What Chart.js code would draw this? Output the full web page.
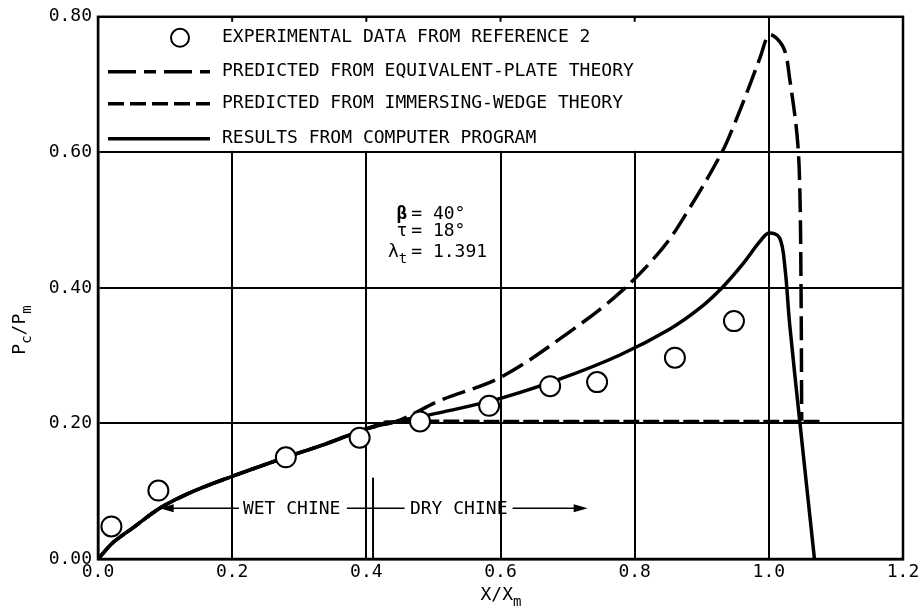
<!DOCTYPE html>
<html>
<head>
<meta charset="utf-8">
<script src="https://cdn.jsdelivr.net/npm/chart.js@4/dist/chart.umd.min.js"></script>
<style>
  html, body { margin: 0; padding: 0; background: #fff; }
  canvas { display: block; }
</style>
</head>
<body>
<canvas id="myChart" width="923" height="616"></canvas>
<script>
// tick values
const xTicks = [0, 0.2, 0.4, 0.6, 0.8, 1.0, 1.2];
const yTicks = [0, 0.2, 0.4, 0.6, 0.8];

// experimental data from reference 2
const expX = [0.02, 0.09, 0.28, 0.39, 0.48, 0.583, 0.674, 0.744, 0.86, 0.948];
const expY = [0.048, 0.101, 0.150, 0.179, 0.203, 0.226, 0.255, 0.261, 0.297, 0.351];

// results from computer program
const progX = [0, 0.022, 0.052, 0.092, 0.14, 0.2, 0.28, 0.34, 0.4, 0.45, 0.51, 0.6, 0.69, 0.778, 0.852, 0.897, 0.931, 0.961, 0.987, 1.0, 1.016, 1.024, 1.031, 1.046, 1.068];
const progY = [0, 0.024, 0.046, 0.075, 0.099, 0.122, 0.150, 0.170, 0.192, 0.204, 0.216, 0.237, 0.266, 0.301, 0.339, 0.370, 0.401, 0.435, 0.469, 0.481, 0.474, 0.43, 0.347, 0.204, 0];

// predicted from equivalent-plate theory
const eqX = [0, 0.022, 0.052, 0.092, 0.14, 0.2, 0.28, 0.34, 0.4, 0.45, 0.51, 0.6, 0.7, 0.778, 0.842, 0.882, 0.93, 0.95, 0.97, 0.987, 1.0, 1.012, 1.024, 1.031, 1.042, 1.046, 1.048, 1.049];
const eqY = [0, 0.024, 0.046, 0.075, 0.099, 0.122, 0.150, 0.170, 0.192, 0.205, 0.234, 0.268, 0.333, 0.393, 0.459, 0.518, 0.60, 0.645, 0.695, 0.74, 0.773, 0.768, 0.749, 0.709, 0.626, 0.553, 0.4, 0.204];

// predicted from immersing-wedge theory
const wedgeX = [0, 0.022, 0.052, 0.092, 0.14, 0.2, 0.28, 0.34, 0.4, 0.43, 0.6, 0.8, 1.0, 1.078];
const wedgeY = [0, 0.024, 0.046, 0.075, 0.099, 0.122, 0.150, 0.170, 0.192, 0.202, 0.203, 0.203, 0.203, 0.203];

const legendLabels = [
  "EXPERIMENTAL DATA FROM REFERENCE 2",
  "PREDICTED FROM EQUIVALENT-PLATE THEORY",
  "PREDICTED FROM IMMERSING-WEDGE THEORY",
  "RESULTS FROM COMPUTER PROGRAM",
];
const paramLabels = [["β", "", "= 40°"], ["τ", "", "= 18°"], ["λ", "t", "= 1.391"]];
const chineLabels = ["WET CHINE", "DRY CHINE"];

const FONT = "DejaVu Sans Mono";
const toPts = (xs, ys) => xs.map((x, i) => ({ x: x, y: ys[i] }));

function textParts(ctx, parts, x, y, size, weight) {
  // parts: [text, isSub]
  let cx = x;
  parts.forEach(([t, sub]) => {
    ctx.font = (weight || "") + " " + (sub ? size - 4 : size) + "px '" + FONT + "'";
    ctx.fillText(t, cx, sub ? y + 7 : y);
    cx += ctx.measureText(t).width;
  });
}
function partsWidth(ctx, parts, size, weight) {
  let w = 0;
  parts.forEach(([t, sub]) => {
    ctx.font = (weight || "") + " " + (sub ? size - 4 : size) + "px '" + FONT + "'";
    w += ctx.measureText(t).width;
  });
  return w;
}
function arrowHead(ctx, x, y, dir) {
  ctx.beginPath();
  ctx.moveTo(x, y);
  ctx.lineTo(x - dir * 14, y - 4);
  ctx.lineTo(x - dir * 14, y + 4);
  ctx.closePath();
  ctx.fill();
}

const decor = {
  id: "decor",
  beforeDatasetsDraw(chart) {
    const { ctx, chartArea: a, scales: { x, y } } = chart;
    ctx.save();
    // legend box area has no grid lines
    const x1 = x.getPixelForValue(1.0);
    const y6 = y.getPixelForValue(0.6);
    ctx.fillStyle = "#fff";
    ctx.fillRect(a.left + 1.5, a.top + 1.5, x1 - a.left - 3, y6 - a.top - 3);
    ctx.strokeStyle = "#000";
    ctx.lineWidth = 2;
    [0.2, 0.4, 0.6, 0.8].forEach((v) => {
      const px = x.getPixelForValue(v);
      ctx.beginPath();
      ctx.moveTo(px, a.top);
      ctx.lineTo(px, a.top + 5);
      ctx.stroke();
    });

    // legend
    const rows = [21, 55, 87, 122];
    const l0 = a.left + 10, l1 = a.left + 112;
    ctx.fillStyle = "#000";
    ctx.font = "18px '" + FONT + "'";
    ctx.textBaseline = "middle";
    ctx.textAlign = "left";
    legendLabels.forEach((t, i) => ctx.fillText(t, a.left + 124, a.top + rows[i]));
    ctx.lineWidth = 2;
    ctx.beginPath();
    ctx.arc(a.left + 82, a.top + rows[0], 9, 0, Math.PI * 2);
    ctx.stroke();
    ctx.lineWidth = 3.5;
    const dashes = [[28, 8, 12, 8], [16, 6], []];
    dashes.forEach((d, i) => {
      ctx.setLineDash(d);
      ctx.beginPath();
      ctx.moveTo(l0, a.top + rows[i + 1]);
      ctx.lineTo(l1, a.top + rows[i + 1]);
      ctx.stroke();
    });
    ctx.setLineDash([]);
    ctx.restore();
  },
  afterDraw(chart) {
    const { ctx, chartArea: a, scales: { x, y } } = chart;
    ctx.save();
    ctx.strokeStyle = "#000";
    ctx.fillStyle = "#000";
    ctx.lineWidth = 2.5;
    ctx.strokeRect(a.left, a.top, a.right - a.left, a.bottom - a.top);

    // parameter block
    ctx.textBaseline = "middle";
    const ax = x.getPixelForValue(0.464);
    const rowY = [0.508, 0.484, 0.452];
    paramLabels.forEach(([sym, sub, val], i) => {
      const py = y.getPixelForValue(rowY[i]);
      const parts = [[sym, false]];
      if (sub) parts.push([sub, true]);
      const wt = i === 0 ? "bold" : "";
      const w = partsWidth(ctx, parts, 18, wt);
      ctx.textAlign = "left";
      textParts(ctx, parts, ax - w - 2, py, 18, wt);
      ctx.font = "18px '" + FONT + "'";
      ctx.fillText(val, ax + 2, py);
    });

    // wet / dry chine
    const cy = y.getPixelForValue(0.075);
    ctx.font = "18px '" + FONT + "'";
    ctx.textAlign = "left";
    ctx.fillText(chineLabels[0], x.getPixelForValue(0.216), cy + 1);
    ctx.fillText(chineLabels[1], x.getPixelForValue(0.465), cy + 1);
    ctx.lineWidth = 1.5;
    const seg = (x0, x1) => {
      ctx.beginPath();
      ctx.moveTo(x.getPixelForValue(x0), cy);
      ctx.lineTo(x.getPixelForValue(x1), cy);
      ctx.stroke();
    };
    seg(0.1, 0.21);
    seg(0.371, 0.457);
    seg(0.618, 0.71);
    arrowHead(ctx, x.getPixelForValue(0.092), cy, -1);
    arrowHead(ctx, x.getPixelForValue(0.73), cy, 1);
    ctx.lineWidth = 2;
    ctx.beginPath();
    ctx.moveTo(x.getPixelForValue(0.41), y.getPixelForValue(0.12));
    ctx.lineTo(x.getPixelForValue(0.41), y.getPixelForValue(0));
    ctx.stroke();

    // axis titles
    ctx.textAlign = "left";
    const xt = [["X/X", false], ["m", true]];
    const xw = partsWidth(ctx, xt, 18);
    textParts(ctx, xt, 501 - xw / 2, 595, 18);
    ctx.translate(24, 330);
    ctx.rotate(-Math.PI / 2);
    const yt = [["P", false], ["c", true], ["/P", false], ["m", true]];
    const yw = partsWidth(ctx, yt, 18);
    textParts(ctx, yt, -yw / 2, -4, 18);
    ctx.restore();
  },
};

const lineStyle = {
  showLine: true,
  pointRadius: 0,
  borderColor: "#000",
  borderWidth: 3.5,
  tension: 0.35,
  fill: false,
};

new Chart(document.getElementById("myChart"), {
  type: "scatter",
  data: {
    datasets: [
      {
        label: legendLabels[0],
        data: toPts(expX, expY),
        pointRadius: 10,
        pointBorderWidth: 2,
        pointBorderColor: "#000",
        pointBackgroundColor: "#fff",
        showLine: false,
      },
      { label: legendLabels[3], data: toPts(progX, progY), ...lineStyle },
      { label: legendLabels[1], data: toPts(eqX, eqY), ...lineStyle, borderDash: [24, 8] },
      { label: legendLabels[2], data: toPts(wedgeX, wedgeY), ...lineStyle, tension: 0.2, borderDash: [16, 4] },
    ],
  },
  options: {
    responsive: false,
    animation: false,
    devicePixelRatio: 1,
    layout: { padding: { top: 15, right: 20, left: 0, bottom: 0 } },
    plugins: { legend: { display: false }, tooltip: { enabled: false } },
    scales: {
      x: {
        type: "linear",
        min: 0,
        max: 1.2,
        afterFit: (s) => { s.height = 57; },
        afterBuildTicks: (s) => { s.ticks = xTicks.map((v) => ({ value: v })); },
        ticks: {
          color: "#000",
          padding: 3,
          font: { family: FONT, size: 18 },
          callback: (v) => Number(v).toFixed(1),
        },
        grid: { color: "#000", lineWidth: 2, drawTicks: false },
        border: { display: true, color: "#000", width: 2.5 },
      },
      y: {
        type: "linear",
        min: 0,
        max: 0.8,
        afterFit: (s) => { s.width = 98; },
        afterBuildTicks: (s) => { s.ticks = yTicks.map((v) => ({ value: v })); },
        ticks: {
          color: "#000",
          padding: 6,
          font: { family: FONT, size: 18 },
          callback: (v) => Number(v).toFixed(2),
        },
        grid: { color: "#000", lineWidth: 2, drawTicks: false },
        border: { display: true, color: "#000", width: 2.5 },
      },
    },
  },
  plugins: [decor],
});
</script>
</body>
</html>
